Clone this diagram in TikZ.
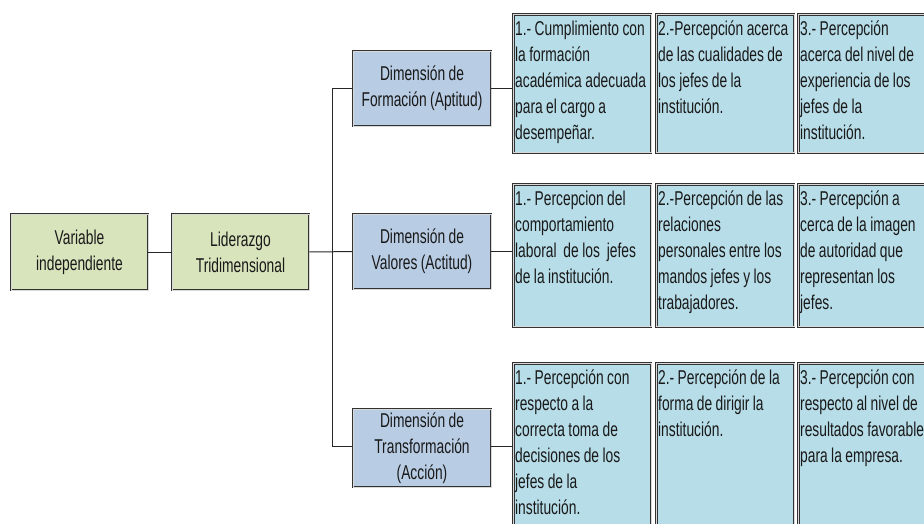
\documentclass[tikz,border=0pt]{standalone}
\usepackage{fontspec}
\setmainfont[FakeStretch=0.69, WordSpace=0.9]{Liberation Sans}
\definecolor{verdecaja}{RGB}{216,228,188}
\definecolor{azuldim}{RGB}{184,204,228}
\definecolor{celeste}{RGB}{183,221,232}
\definecolor{borde}{RGB}{50,50,50}
\tikzset{every node/.style={font=\fontsize{20}{26}\selectfont, text=black!90}}
\tikzset{ %estilos de las cajas
    caja/.style={rectangle, draw=borde, line width=0.75pt, double=gray!30, double distance=0.8pt},
    varbox/.style={caja, fill=verdecaja, minimum width=137pt, minimum height=76pt, align=center, inner sep=0pt},
    dimbox/.style={caja, fill=azuldim, minimum width=138pt, minimum height=#1, align=center, inner sep=0pt},
    itembox/.style={caja, fill=celeste, anchor=north west, text width=134pt, align=flush left,
        inner xsep=1.8pt, inner ysep=3pt, text height=18.5pt, text depth=#1},
    linea/.style={draw=black!85, line width=1pt},
}

\begin{document}
\begin{tikzpicture}[x=1pt, y=-1pt]
		\useasboundingbox (0,0) rectangle (924,523);
		\clip (0,0) rectangle (924,523);
		% variable y liderazgo
		\node[varbox] (var) at (79.5,252) {Variable\\independiente};
		\node[varbox] (lid) at (240.5,252) {Liderazgo\\Tridimensional};
		% dimensiones
		\node[dimbox=75pt] (dimF) at (422,88.5) {Dimensión de\\Formación (Aptitud)};
		\node[dimbox=75pt] (dimV) at (422,251.5) {Dimensión de\\Valores (Actitud)};
		\node[dimbox=78pt] (dimT) at (422,448) {Dimensión de\\Transformación\\(Acción)};
		% indicadores, fila 1
		\node[itembox=114pt] (itF1) at (513,14) {1.- Cumplimiento con\\la formación\\académica adecuada\\para el cargo a\\desempeñar.};
		\node[itembox=114pt] (itF2) at (656,14) {2.-Percepción acerca\\de las cualidades de\\los jefes de la\\institución.};
		\node[itembox=114pt] (itF3) at (798,14) {3.- Percepción\\acerca del nivel de\\experiencia de los\\jefes de la\\institución.};
		% fila 2
		\node[itembox=118pt] (itV1) at (513,184) {1.- Percepcion del\\comportamiento\\laboral\ \ de los\ \ jefes\\de la institución.};
		\node[itembox=118pt] (itV2) at (656,184) {2.-Percepción de las\\relaciones\\personales entre los\\mandos jefes y los\\trabajadores.};
		\node[itembox=118pt] (itV3) at (798,184) {3.- Percepción a\\cerca de la imagen\\de autoridad que\\representan los\\jefes.};
		% fila 3
		\node[itembox=160pt] (itT1) at (513,363) {1.- Percepción con\\respecto a la\\correcta toma de\\decisiones de los\\jefes de la\\institución.};
		\node[itembox=160pt] (itT2) at (656,363) {2.- Percepción de la\\forma de dirigir la\\institución.};
		\node[itembox=160pt] (itT3) at (798,363) {3.- Percepción con\\respecto al nivel de\\resultados favorable\\para la empresa.};
		% conectores
		\draw[linea] (var) -- (lid);
		\draw[linea] (lid) -- (dimV);
		\draw[linea] (dimF.west) -- ++(-20,0) |- ([yshift=2pt]dimT.west);
		\foreach \d in {F,V}{
			\draw[linea] (dim\d.east) -- (dim\d.east -| it\d1.west);
		}
		\draw[linea] ([yshift=2pt]dimT.east) -- ([yshift=2pt]dimT.east -| itT1.west);
	\end{tikzpicture}
\end{document}
